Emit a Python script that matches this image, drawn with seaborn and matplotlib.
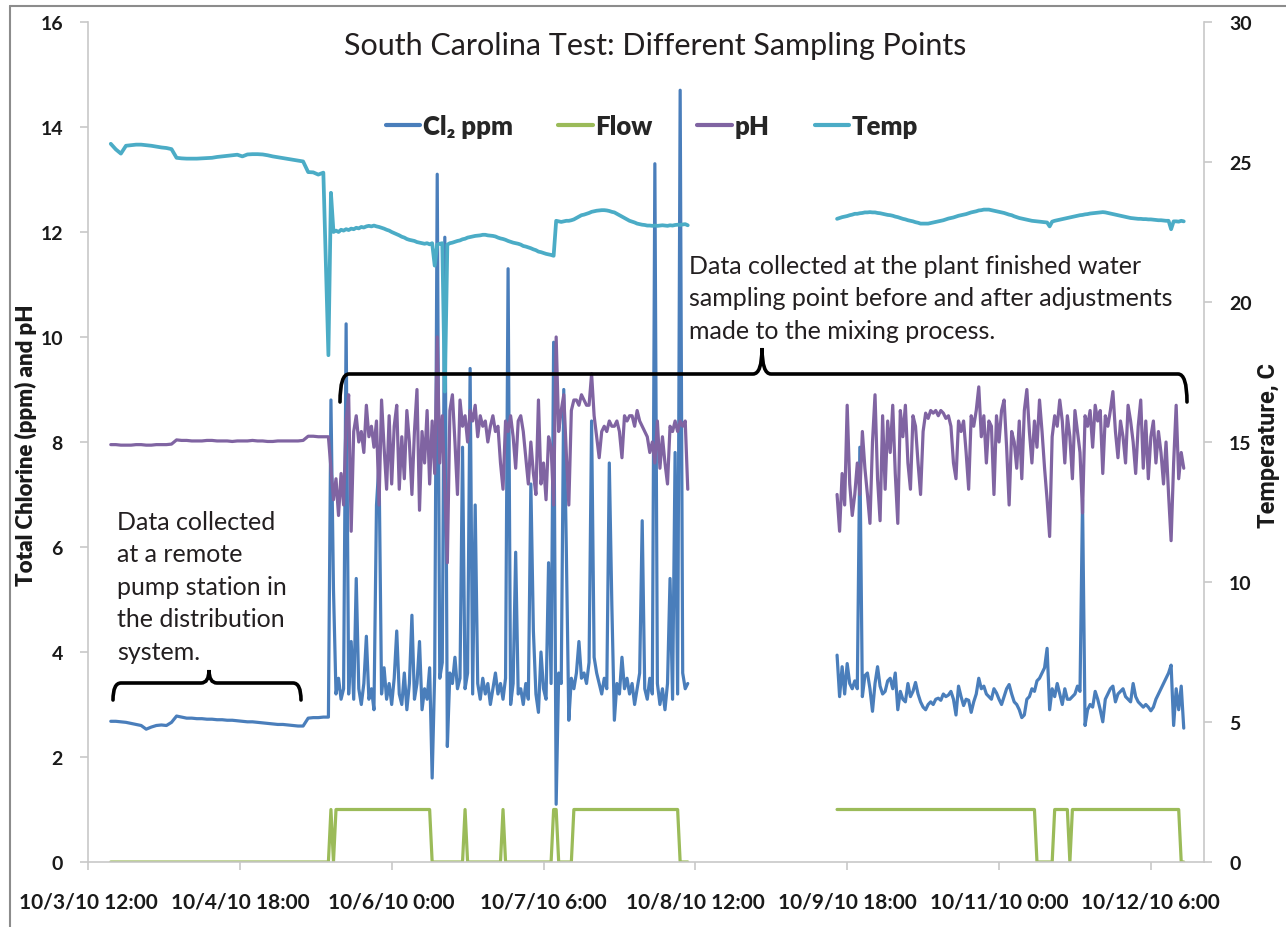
import pandas as pd
import matplotlib
matplotlib.use("Agg")
import matplotlib.pyplot as plt
import matplotlib.transforms as mtransforms
import seaborn as sns
from matplotlib.lines import Line2D
from matplotlib.path import Path
from matplotlib.patches import PathPatch

# logging runs: start time and sample spacing
run1_start, run1_freq = "2010-10-03 16:30", "60min"   # remote pump station
run2_start, run2_freq = "2010-10-05 11:30", "30min"   # plant, before adjustment
run3_start, run3_freq = "2010-10-09 16:00", "30min"   # plant, after adjustment

# remote pump station
cl2_run1 = [2.68, 2.68, 2.67, 2.66, 2.64, 2.62, 2.60, 2.53, 2.57, 2.60,
            2.61, 2.60, 2.66, 2.78, 2.76, 2.74, 2.74, 2.73, 2.73, 2.72,
            2.72, 2.71, 2.71, 2.70, 2.70, 2.69, 2.68, 2.67, 2.67, 2.66,
            2.65, 2.64, 2.63, 2.62, 2.62, 2.61, 2.60, 2.59, 2.59, 2.74,
            2.75, 2.75, 2.76]
ph_run1 = [7.95, 7.95, 7.94, 7.94, 7.94, 7.95, 7.95, 7.94, 7.94, 7.95,
           7.95, 7.95, 7.96, 8.04, 8.03, 8.03, 8.02, 8.02, 8.02, 8.03,
           8.03, 8.02, 8.02, 8.02, 8.01, 8.02, 8.02, 8.02, 8.03, 8.02,
           8.02, 8.01, 8.01, 8.02, 8.02, 8.02, 8.02, 8.02, 8.03, 8.11,
           8.11, 8.10, 8.10]
temp_run1 = [25.65, 25.45, 25.30, 25.58, 25.60, 25.62, 25.62, 25.60, 25.58, 25.55,
             25.52, 25.50, 25.46, 25.15, 25.13, 25.12, 25.12, 25.12, 25.13, 25.14,
             25.15, 25.18, 25.20, 25.22, 25.24, 25.26, 25.20, 25.27, 25.28, 25.28,
             25.27, 25.24, 25.20, 25.17, 25.14, 25.11, 25.08, 25.05, 25.02, 24.64,
             24.63, 24.55, 24.62]
flow_run1 = [0, 0, 0, 0, 0, 0, 0, 0, 0, 0,
             0, 0, 0, 0, 0, 0, 0, 0, 0, 0,
             0, 0, 0, 0, 0, 0, 0, 0, 0, 0,
             0, 0, 0, 0, 0, 0, 0, 0, 0, 0,
             0, 0, 0]

# plant finished water, first run
cl2_run2 = [2.76, 8.8, 5.2, 3.2, 3.5, 3.1, 3.3, 10.25, 3.2, 4.2,
            3.1, 5.4, 3.3, 3.0, 3.4, 4.3, 3.1, 3.3, 2.9, 6.8,
            7.6, 3.2, 3.7, 3.1, 3.4, 3.0, 3.5, 4.4, 3.2, 3.0,
            3.6, 2.9, 3.4, 4.7, 3.1, 3.4, 4.2, 2.9, 3.3, 3.1,
            3.7, 1.6, 3.6, 13.1, 3.5, 3.8, 11.9, 2.2, 3.6, 3.4,
            3.9, 3.3, 3.5, 7.9, 3.3, 3.6, 9.4, 3.2, 6.8, 3.4,
            3.1, 3.5, 3.2, 3.4, 3.0, 3.3, 3.6, 3.2, 3.4, 3.1,
            3.5, 11.3, 3.0, 3.4, 5.9, 3.2, 3.3, 3.0, 3.4, 3.1,
            7.2, 4.4, 3.2, 2.85, 4.0, 3.3, 3.1, 5.7, 3.4, 9.9,
            1.1, 3.6, 3.4, 9.0, 6.0, 2.7, 3.5, 3.3, 3.6, 4.2,
            3.5, 3.6, 3.4, 3.8, 8.4, 3.9, 3.6, 3.4, 3.2, 3.5,
            3.3, 7.6, 4.9, 2.7, 3.4, 3.2, 3.9, 3.3, 3.5, 3.2,
            3.4, 3.0, 3.3, 3.6, 6.5, 3.3, 3.1, 3.5, 3.2, 13.3,
            3.4, 3.0, 3.3, 2.9, 3.4, 5.4, 3.1, 7.8, 3.2, 14.7,
            3.6, 3.3, 3.4]
ph_run2 = [8.10, 7.5, 6.9, 7.3, 6.6, 7.4, 6.8, 8.4, 8.9, 6.3,
           8.2, 8.5, 8.0, 8.2, 7.8, 8.7, 8.1, 8.3, 7.9, 8.4,
           6.8, 8.8, 7.9, 7.1, 8.5, 7.2, 8.3, 8.7, 7.1, 8.1,
           7.3, 8.6, 8.0, 7.0, 8.2, 9.0, 6.7, 8.2, 7.6, 8.6,
           7.2, 8.4, 7.4, 10.0, 7.6, 8.5, 7.1, 5.7, 8.6, 8.9,
           8.0, 7.0, 8.8, 8.3, 8.5, 8.0, 8.6, 8.4, 8.7, 8.1,
           8.5, 8.3, 8.4, 8.0, 8.3, 8.5, 8.2, 8.3, 7.6, 7.1,
           8.4, 8.2, 8.5, 8.1, 7.5, 8.4, 8.5, 8.2, 7.7, 7.2,
           8.0, 7.4, 7.0, 8.8, 7.2, 7.6, 6.9, 8.1, 7.9, 6.8,
           10.0, 8.2, 8.6, 8.9, 7.8, 6.8, 8.6, 8.8, 8.8, 8.7,
           8.9, 8.8, 8.7, 8.7, 9.3, 8.5, 8.1, 7.7, 8.2, 8.3,
           8.2, 8.4, 8.3, 8.3, 8.4, 8.2, 7.7, 8.5, 8.4, 8.5,
           8.5, 8.3, 8.6, 8.4, 8.3, 8.2, 8.1, 7.8, 8.0, 7.6,
           8.4, 7.5, 8.1, 7.6, 7.2, 8.3, 8.2, 8.4, 8.2, 8.4,
           8.3, 8.4, 7.1]
temp_run2 = [18.1, 23.9, 22.5, 22.55, 22.5, 22.58, 22.55, 22.6, 22.57, 22.62,
             22.6, 22.65, 22.63, 22.68, 22.66, 22.7, 22.72, 22.7, 22.73, 22.7,
             22.68, 22.65, 22.62, 22.58, 22.55, 22.5, 22.46, 22.42, 22.38, 22.33,
             22.3, 22.25, 22.22, 22.2, 22.18, 22.14, 22.12, 22.1, 22.08, 22.1,
             22.06, 22.1, 21.3, 22.05, 22.08, 22.1, 16.8, 22.05, 22.1, 22.12,
             22.15, 22.18, 22.2, 22.24, 22.26, 22.3, 22.32, 22.34, 22.36, 22.37,
             22.38, 22.4, 22.4, 22.38, 22.37, 22.36, 22.34, 22.3, 22.27, 22.25,
             22.22, 22.18, 22.15, 22.12, 22.1, 22.08, 22.05, 22.0, 21.98, 21.95,
             21.92, 21.88, 21.85, 21.8, 21.78, 21.75, 21.72, 21.7, 21.68, 21.65,
             22.9, 22.88, 22.86, 22.88, 22.9, 22.9, 22.92, 22.95, 23.0, 23.05,
             23.1, 23.12, 23.15, 23.18, 23.22, 23.24, 23.26, 23.27, 23.28, 23.28,
             23.27, 23.25, 23.22, 23.2, 23.15, 23.1, 23.05, 23.0, 22.95, 22.9,
             22.87, 22.84, 22.8, 22.78, 22.76, 22.75, 22.73, 22.73, 22.72, 22.73,
             22.72, 22.73, 22.74, 22.73, 22.72, 22.74, 22.73, 22.75, 22.76, 22.75,
             22.77, 22.78, 22.74]
flow_run2 = [0, 1, 0, 1, 1, 1, 1, 1, 1, 1,
             1, 1, 1, 1, 1, 1, 1, 1, 1, 1,
             1, 1, 1, 1, 1, 1, 1, 1, 1, 1,
             1, 1, 1, 1, 1, 1, 1, 1, 1, 1,
             1, 0, 0, 0, 0, 0, 0, 0, 0, 0,
             0, 0, 0, 0, 1, 0, 0, 0, 0, 0,
             0, 0, 0, 0, 0, 0, 0, 0, 0, 1,
             0, 0, 0, 0, 0, 0, 0, 0, 0, 0,
             0, 0, 0, 0, 0, 0, 0, 0, 0, 1,
             1, 0, 0, 0, 0, 0, 0, 1, 1, 1,
             1, 1, 1, 1, 1, 1, 1, 1, 1, 1,
             1, 1, 1, 1, 1, 1, 1, 1, 1, 1,
             1, 1, 1, 1, 1, 1, 1, 1, 1, 1,
             1, 1, 1, 1, 1, 1, 1, 1, 1, 0,
             0, 0, 0]

# plant finished water, after mixing adjustments
cl2_run3 = [3.94, 3.15, 3.72, 3.2, 3.78, 3.4, 3.3, 3.45, 3.3, 7.9,
            3.15, 3.55, 3.6, 3.3, 2.87, 3.4, 3.72, 3.35, 3.2, 3.25,
            3.45, 3.5, 3.3, 3.6, 2.9, 3.25, 3.1, 3.05, 3.4, 3.15,
            3.25, 3.42, 3.2, 3.05, 2.95, 2.9, 3.0, 3.05, 3.0, 3.1,
            3.12, 3.08, 3.2, 3.15, 3.18, 3.25, 3.1, 2.8, 3.35, 3.15,
            2.98, 3.1, 3.08, 2.85, 3.05, 3.2, 3.5, 3.3, 3.35, 3.2,
            3.15, 3.1, 3.3, 3.22, 3.1, 3.0, 3.15, 3.3, 3.38, 3.2,
            3.05, 3.0, 2.9, 2.75, 2.8, 3.1, 3.15, 3.3, 3.25, 3.45,
            3.5, 3.6, 3.7, 4.07, 2.9, 3.3, 3.15, 3.4, 3.2, 3.0,
            3.3, 3.1, 3.1, 3.15, 3.2, 3.35, 3.25, 6.9, 2.6, 2.9,
            3.0, 2.95, 3.25, 3.1, 2.9, 2.67, 3.1, 3.2, 3.3, 3.35,
            3.05, 3.2, 3.25, 3.3, 3.15, 3.1, 3.05, 3.4, 3.15, 3.05,
            3.0, 2.95, 3.0, 2.95, 2.88, 2.95, 3.1, 3.2, 3.3, 3.4,
            3.5, 3.6, 3.75, 2.6, 3.3, 2.9, 3.35, 2.55]
ph_run3 = [7.0, 6.3, 7.4, 6.8, 8.7, 7.2, 6.6, 7.0, 7.6, 7.0,
           8.2, 7.5, 7.0, 6.45, 8.0, 8.9, 7.3, 6.5, 8.5, 7.1,
           8.4, 7.8, 8.7, 7.4, 6.45, 8.6, 8.1, 8.7, 7.6, 7.1,
           8.5, 8.3, 7.6, 7.0, 8.2, 8.55, 8.45, 8.6, 8.55, 8.6,
           8.5, 8.6, 8.55, 8.45, 8.5, 8.3, 7.6, 7.3, 8.4, 8.2,
           8.4, 7.8, 7.1, 8.5, 8.3, 8.6, 9.05, 8.1, 8.5, 7.6,
           8.4, 8.3, 7.0, 8.5, 8.0, 8.6, 8.8, 7.9, 6.8, 8.2,
           8.0, 7.5, 8.4, 7.3, 8.6, 9.0, 8.2, 7.6, 8.4, 7.9,
           8.8, 8.2, 7.5, 6.9, 6.2, 8.1, 8.5, 8.3, 8.8, 8.4,
           7.6, 8.5, 8.1, 7.3, 8.6, 8.2, 7.8, 6.65, 8.5, 8.3,
           8.6, 7.9, 8.7, 8.4, 8.6, 7.4, 8.5, 8.3, 8.6, 8.96,
           8.2, 7.7, 8.4, 8.1, 7.6, 8.7, 8.4, 8.0, 7.4, 8.3,
           8.8, 7.5, 8.4, 7.3, 8.1, 8.4, 7.6, 8.2, 7.8, 7.2,
           8.0, 7.0, 6.12, 7.6, 8.7, 7.3, 7.8, 7.5]
temp_run3 = [22.97, 23.0, 23.03, 23.05, 23.07, 23.1, 23.12, 23.15, 23.15, 23.17,
             23.18, 23.2, 23.2, 23.21, 23.2, 23.2, 23.18, 23.17, 23.15, 23.13,
             23.11, 23.1, 23.08, 23.05, 23.03, 23.0, 22.97, 22.95, 22.92, 22.9,
             22.88, 22.85, 22.83, 22.8, 22.8, 22.8, 22.8, 22.82, 22.84, 22.86,
             22.88, 22.9, 22.92, 22.95, 22.98, 23.0, 23.02, 23.05, 23.08, 23.1,
             23.12, 23.14, 23.17, 23.2, 23.22, 23.24, 23.27, 23.28, 23.3, 23.3,
             23.3, 23.28, 23.26, 23.24, 23.22, 23.2, 23.18, 23.15, 23.12, 23.1,
             23.06, 23.03, 23.0, 22.98, 22.96, 22.94, 22.92, 22.9, 22.89, 22.88,
             22.87, 22.86, 22.85, 22.84, 22.7, 22.87, 22.9, 22.92, 22.94, 22.96,
             22.98, 23.0, 23.02, 23.04, 23.06, 23.08, 23.1, 23.11, 23.13, 23.14,
             23.16, 23.17, 23.18, 23.19, 23.2, 23.21, 23.2, 23.18, 23.16, 23.14,
             23.12, 23.1, 23.08, 23.06, 23.04, 23.02, 23.0, 22.99, 22.98, 22.97,
             22.97, 22.96, 22.96, 22.95, 22.95, 22.94, 22.93, 22.92, 22.92, 22.91,
             22.9, 22.9, 22.6, 22.88, 22.88, 22.87, 22.9, 22.88]
flow_run3 = [1, 1, 1, 1, 1, 1, 1, 1, 1, 1,
             1, 1, 1, 1, 1, 1, 1, 1, 1, 1,
             1, 1, 1, 1, 1, 1, 1, 1, 1, 1,
             1, 1, 1, 1, 1, 1, 1, 1, 1, 1,
             1, 1, 1, 1, 1, 1, 1, 1, 1, 1,
             1, 1, 1, 1, 1, 1, 1, 1, 1, 1,
             1, 1, 1, 1, 1, 1, 1, 1, 1, 1,
             1, 1, 1, 1, 1, 1, 1, 1, 1, 0,
             0, 0, 0, 0, 0, 0, 1, 1, 1, 1,
             1, 1, 0, 1, 1, 1, 1, 1, 1, 1,
             1, 1, 1, 1, 1, 1, 1, 1, 1, 1,
             1, 1, 1, 1, 1, 1, 1, 1, 1, 1,
             1, 1, 1, 1, 1, 1, 1, 1, 1, 1,
             1, 1, 1, 1, 1, 1, 0, 0]

series_names = ["Cl\u2082 ppm", "Flow", "pH", "Temp"]
series_colors = ["#4a7ebb", "#9bbb59", "#8064a2", "#4bacc6"]
x_tick_times = ["2010-10-03 12:00", "2010-10-04 18:00", "2010-10-06 00:00", "2010-10-07 06:00",
                "2010-10-08 12:00", "2010-10-09 18:00", "2010-10-11 00:00", "2010-10-12 06:00"]
x_start, x_end = "2010-10-03 12:00", "2010-10-12 16:30"


def run_frame(values, start, freq, run, name):
    t = pd.date_range(start, periods=len(values), freq=freq)
    return pd.DataFrame({"time": t, "value": values, "run": run, "series": name})


parts = []
for name, vals in zip(series_names,
                      [(cl2_run1, cl2_run2, cl2_run3), (flow_run1, flow_run2, flow_run3),
                       (ph_run1, ph_run2, ph_run3), (temp_run1, temp_run2, temp_run3)]):
    # runs 1 and 2 are one continuous record, run 3 comes after a gap
    parts.append(run_frame(vals[0], run1_start, run1_freq, "a", name))
    parts.append(run_frame(vals[1], run2_start, run2_freq, "a", name))
    parts.append(run_frame(vals[2], run3_start, run3_freq, "b", name))
df = pd.concat(parts, ignore_index=True)

sns.set_theme(style="white")
plt.rcParams["font.family"] = ["Lato", "DejaVu Sans"]

fig = plt.figure(figsize=(12.86, 9.28), dpi=100)
ax = fig.add_axes([88 / 1286, 1 - 863 / 928, 1116 / 1286, 840 / 928])
ax2 = ax.twinx()

lw = 2.3
for name, color in zip(series_names[:3], series_colors[:3]):
    sns.lineplot(data=df[df.series == name], x="time", y="value", units="run",
                 estimator=None, color=color, lw=lw, ax=ax, legend=False)
sns.lineplot(data=df[df.series == "Temp"], x="time", y="value", units="run",
             estimator=None, color=series_colors[3], lw=lw + 0.4, ax=ax2, legend=False)

ax.set_xlim(pd.Timestamp(x_start), pd.Timestamp(x_end))
ax.set_ylim(0, 16)
ax2.set_ylim(0, 30)
ax.set_xlabel("")
ax.set_ylabel("")
ax2.set_ylabel("")

ticks = pd.to_datetime(x_tick_times)
ax.set_xticks(ticks)
ax.set_xticklabels([f"{t.month}/{t.day}/{t:%y} {t.hour}:{t:%M}" for t in ticks],
                   fontsize=15, fontweight="bold", color="#1a1a1a")
ax.set_yticks(range(0, 17, 2))
ax.set_yticklabels([str(v) for v in range(0, 17, 2)], fontsize=14, fontweight="bold", color="#1a1a1a")
ax2.set_yticks(range(0, 31, 5))
ax2.set_yticklabels([str(v) for v in range(0, 31, 5)], fontsize=14, fontweight="bold", color="#1a1a1a")

axis_grey = "#c8c8c8"
for a in (ax, ax2):
    for s in a.spines.values():
        s.set_visible(False)
ax.spines["left"].set_visible(True)
ax.spines["bottom"].set_visible(True)
ax2.spines["right"].set_visible(True)
for s in (ax.spines["left"], ax.spines["bottom"], ax2.spines["right"]):
    s.set_color(axis_grey)
    s.set_linewidth(1.2)
ax.tick_params(axis="x", bottom=True, direction="out", length=6, width=1.2, color=axis_grey, pad=15)
ax.tick_params(axis="y", left=True, direction="out", length=6, width=1.2, color=axis_grey, pad=12)
ax2.tick_params(axis="y", right=True, direction="out", length=6, width=1.2, color=axis_grey, pad=12)

# axis titles
fig.text(26 / 1286, 1 - 445 / 928, "Total Chlorine (ppm) and pH", rotation=90, ha="center", va="center",
         fontsize=16, fontweight="heavy", color="#1a1a1a")
fig.text(1268 / 1286, 1 - 446 / 928, "Temperature, C", rotation=90, ha="center", va="center",
         fontsize=17, fontweight="bold", color="#1a1a1a",
         family=["Liberation Sans Narrow", "Roboto", "DejaVu Sans"])

fig.text(655 / 1286, 1 - 46 / 928, "South Carolina Test: Different Sampling Points",
         ha="center", va="center", fontsize=22, color="#231f20")

handles = [Line2D([], [], color=c, lw=3) for c in series_colors]
fig.legend(handles, series_names, loc="center", bbox_to_anchor=(652 / 1286, 1 - 127 / 928),
           ncol=4, frameon=False, prop={"weight": "heavy", "size": 18.5},
           handlelength=1.35, handletextpad=0.1, columnspacing=1.75)

note_kw = dict(ha="left", va="top", fontsize=18, color="#231f20", linespacing=1.5)
fig.text(117 / 1286, 1 - 511 / 928,
         "Data collected\nat a remote\npump station in\nthe distribution\nsystem.", **note_kw)
fig.text(689 / 1286, 1 - 255 / 928,
         "Data collected at the plant finished water\nsampling point before and after adjustments\n"
         "made to the mixing process.", **note_kw)

# curly brackets, drawn in image pixel units
px = mtransforms.Affine2D().scale(1 / 1286, -1 / 928).translate(0, 1) + fig.transFigure


def brace(x0, x1, xc, y, drop, rise, r):
    verts = [(x0, y + drop), (x0, y), (x0 + r, y), (xc - r, y), (xc, y), (xc, y - rise),
             (xc, y), (xc + r, y), (x1 - r, y), (x1, y), (x1, y + drop)]
    codes = [Path.MOVETO, Path.CURVE3, Path.CURVE3, Path.LINETO, Path.CURVE3, Path.CURVE3,
             Path.CURVE3, Path.CURVE3, Path.LINETO, Path.CURVE3, Path.CURVE3]
    fig.patches.append(PathPatch(Path(verts, codes), transform=px, fill=False,
                                 lw=2.6, edgecolor="black", capstyle="round"))


brace(113, 301, 209, 684, 17, 13, 8)
brace(340, 1187, 762, 375, 28, 26, 9)

# chart area border
fig.add_artist(Line2D([10 / 1286, 10 / 1286], [0, 1 - 7 / 928], transform=fig.transFigure,
                      color="#8c8c8c", lw=1.5))
fig.add_artist(Line2D([10 / 1286, 1], [1 - 7 / 928, 1 - 7 / 928], transform=fig.transFigure,
                      color="#8c8c8c", lw=1.5))

fig.savefig("out.png", dpi=100)
